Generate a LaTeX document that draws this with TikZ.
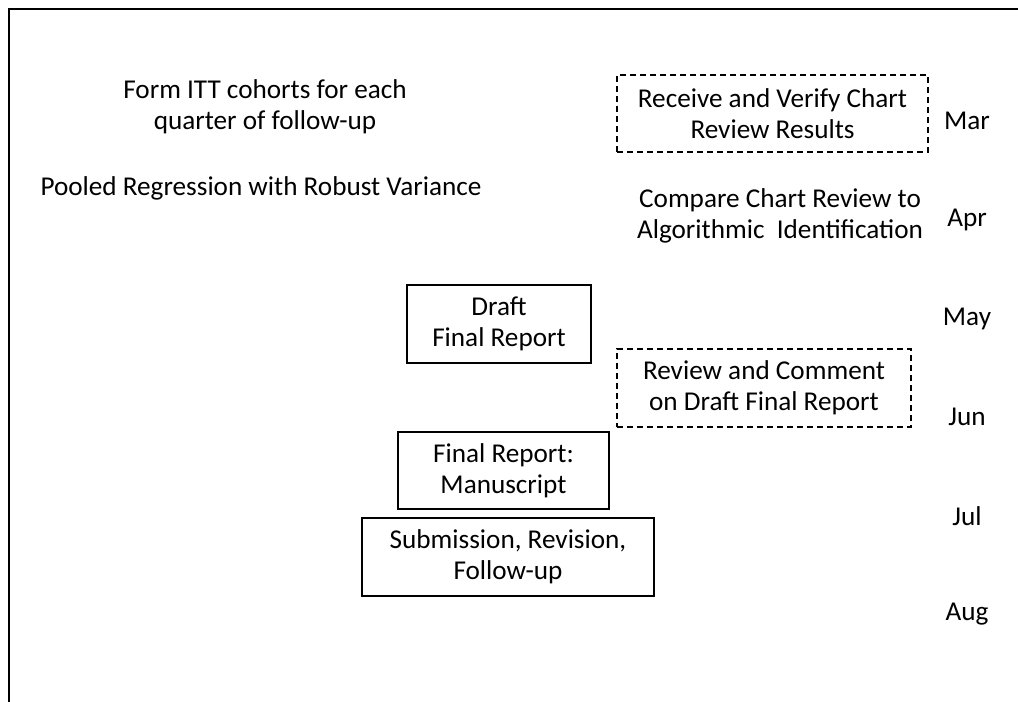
\documentclass[tikz,border=0pt]{standalone}
\usepackage{fontspec}
\setmainfont{Carlito}
\begin{document}
\begin{tikzpicture}[x=0.75pt,y=-0.75pt,
  lbl/.style={font=\fontsize{20.4}{23}\selectfont, align=center, inner sep=0pt},
  solidbox/.style={lbl, draw, line width=1pt},
  dashbox/.style={lbl, draw, line width=0.9pt, dash pattern=on 4.5pt off 3pt}]
\useasboundingbox (0,0) rectangle (1018,702);
\draw[line width=1.6pt] (9,702) -- (9,9) -- (1018,9);
% plain texts
\node[lbl] (form) at (265,107) {Form ITT cohorts for each\\quarter of follow-up};
\node[lbl] (pooled) at (261,188) {Pooled Regression with Robust Variance};
\node[lbl] (compare) at (780,216) {Compare Chart Review to\\Algorithmic\ \ Identification};
% boxes
\node[dashbox, minimum width=311*0.75pt, minimum height=77*0.75pt] (rv) at (772.5,113.5) {Receive and Verify Chart\\Review Results};
\node[solidbox, minimum width=184*0.75pt, minimum height=78*0.75pt] (draft) at (499,324) {Draft\\Final Report};
\node[dashbox, minimum width=294*0.75pt, minimum height=78*0.75pt] (review) at (764,388) {Review and Comment\\on Draft Final Report};
\node[solidbox, minimum width=211*0.75pt, minimum height=77*0.75pt] (manu) at (503.5,470.5) {Final Report:\\Manuscript};
\node[solidbox, minimum width=292*0.75pt, minimum height=78*0.75pt] (sub) at (508,557) {Submission, Revision,\\Follow-up};
% months
\node[lbl] (mar) at (967,121) {Mar};
\node[lbl] (apr) at (967,220) {Apr};
\node[lbl] (may) at (967,319) {May};
\node[lbl] (jun) at (967,417) {Jun};
\node[lbl] (jul) at (967,516) {Jul};
\node[lbl] (aug) at (967,614) {Aug};
\end{tikzpicture}
\end{document}
